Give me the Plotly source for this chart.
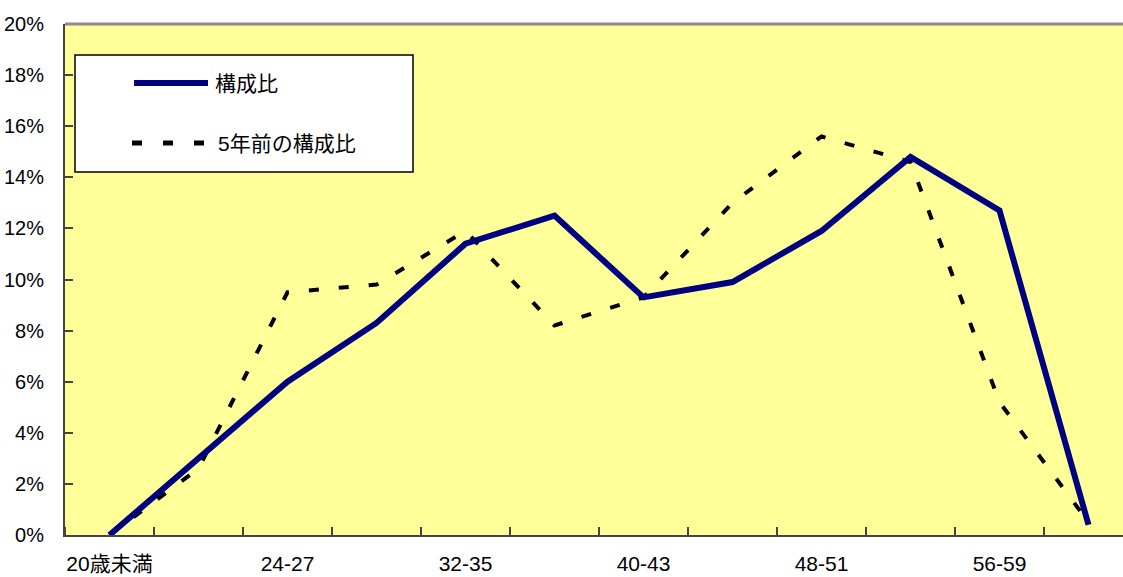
import plotly.graph_objects as go

# Age groups (every other one is labelled on the axis)
categories = ["20歳未満", "20-23", "24-27", "28-31", "32-35", "36-39",
              "40-43", "44-47", "48-51", "52-55", "56-59", "60以上"]
current_share = [0.0, 3.0, 6.0, 8.3, 11.4, 12.5, 9.3, 9.9, 11.9, 14.8, 12.7, 0.4]
share_5y_ago = [0.0, 2.6, 9.5, 9.8, 11.9, 8.2, 9.3, 13.0, 15.6, 14.6, 5.2, 0.5]
label_current = "構成比"
label_previous = "5年前の構成比"
y_ticks = list(range(0, 21, 2))

FONT = "Liberation Sans, Arial, Noto Sans CJK JP"
x_idx = list(range(len(categories)))

fig = go.Figure()
fig.add_trace(go.Scatter(
    x=x_idx, y=share_5y_ago, mode="lines", name=label_previous,
    line=dict(color="black", width=4, dash="10px,20px"),
    showlegend=False,
))
fig.add_trace(go.Scatter(
    x=x_idx, y=current_share, mode="lines", name=label_current,
    line=dict(color="#000080", width=6),
    showlegend=False,
))

# px -> paper helpers for the hand-drawn legend box
L, T, W, H = 65, 24, 1058, 511
def px_x(p):
    return (p - L) / W
def px_y(p):
    return (T + H - p) / H

shapes = [
    # top border of the plot area
    dict(type="line", xref="paper", yref="paper", x0=0, x1=1, y0=1, y1=1,
         line=dict(color="#8c8c8c", width=3)),
    # legend box
    dict(type="rect", xref="paper", yref="paper",
         x0=px_x(75), x1=px_x(413), y0=px_y(172), y1=px_y(55),
         fillcolor="white", line=dict(color="black", width=1.5)),
    dict(type="line", xref="paper", yref="paper",
         x0=px_x(134), x1=px_x(208), y0=px_y(83), y1=px_y(83),
         line=dict(color="#000080", width=6)),
    dict(type="line", xref="paper", yref="paper",
         x0=px_x(132), x1=px_x(204), y0=px_y(143), y1=px_y(143),
         line=dict(color="black", width=5, dash="10px,21px")),
]
annotations = [
    dict(xref="paper", yref="paper", x=px_x(213), y=px_y(83), text=label_current,
         showarrow=False, xanchor="left", yanchor="middle",
         font=dict(family=FONT, size=21, color="black")),
    dict(xref="paper", yref="paper", x=px_x(216), y=px_y(143), text=label_previous,
         showarrow=False, xanchor="left", yanchor="middle",
         font=dict(family=FONT, size=21, color="black")),
]

fig.update_layout(
    width=1123, height=577,
    margin=dict(l=L, r=0, t=T, b=577 - T - H, pad=0, autoexpand=False),
    paper_bgcolor="white",
    plot_bgcolor="#FFFF99",
    font=dict(family=FONT, size=19, color="black"),
    shapes=shapes,
    annotations=annotations,
    showlegend=False,
)
fig.update_xaxes(
    range=[-0.5, -0.5 + W / 89],
    tickmode="array",
    tickvals=x_idx[::2],
    ticktext=categories[::2],
    ticks="",
    minor=dict(tick0=0.5, dtick=1, ticks="inside", ticklen=8,
               tickcolor="#444444", tickwidth=1.5, showgrid=False),
    showgrid=False, zeroline=False,
    showline=True, linecolor="#444444", linewidth=2,
    ticklabelstandoff=9,
    automargin=False,
    tickfont=dict(family=FONT, size=21),
)
fig.update_yaxes(
    range=[0, 20],
    tickmode="array",
    tickvals=y_ticks,
    ticktext=[f"{v}%" for v in y_ticks],
    ticks="inside", ticklen=8, tickcolor="#444444", tickwidth=1.5,
    showgrid=False, zeroline=False,
    showline=True, linecolor="#444444", linewidth=2,
    ticklabelstandoff=15,
    automargin=False,
    tickfont=dict(family=FONT, size=20),
)

fig.write_html("out.html")
